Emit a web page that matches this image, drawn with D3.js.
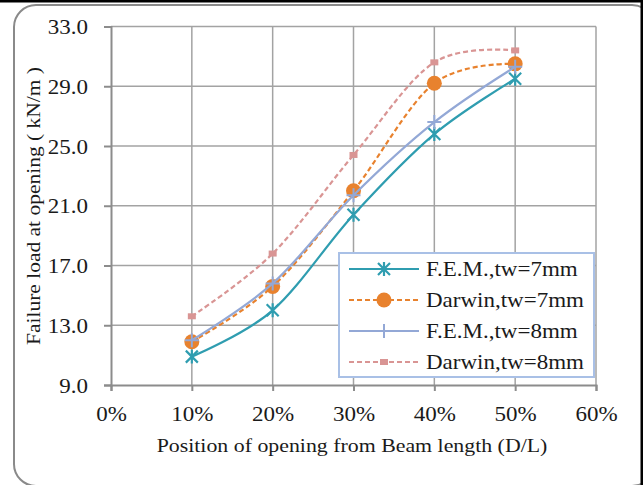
<!DOCTYPE html>
<html>
<head>
<meta charset="utf-8">
<script src="https://cdn.jsdelivr.net/npm/d3@7"></script>
<style>
  body { margin: 0; background: #fff; }
  svg text { font-family: "Liberation Serif", "Times New Roman", serif; fill: #1a1a1a; }
</style>
</head>
<body>
<svg id="chart" width="643" height="485"></svg>
<script>
// data
const positions = [0.1, 0.2, 0.3, 0.4, 0.5];
const xTicks = [0, 0.1, 0.2, 0.3, 0.4, 0.5, 0.6];
const yTicks = [9, 13, 17, 21, 25, 29, 33];
const femTw7 = [10.9, 14.0, 20.4, 25.8, 29.5];
const darwinTw7 = [11.9, 15.6, 22.0, 29.2, 30.5];
const femTw8 = [12.0, 15.8, 21.7, 26.6, 30.3];
const darwinTw8 = [13.6, 17.8, 24.4, 30.6, 31.4];
const seriesNames = ["F.E.M.,tw=7mm", "Darwin,tw=7mm", "F.E.M.,tw=8mm", "Darwin,tw=8mm"];

const series = [
  { name: seriesNames[0], values: femTw7, color: "#2f9db0", dash: null, marker: "star" },
  { name: seriesNames[1], values: darwinTw7, color: "#e8822e", dash: "5,3", marker: "circle" },
  { name: seriesNames[2], values: femTw8, color: "#93a8d6", dash: null, marker: "plus" },
  { name: seriesNames[3], values: darwinTw8, color: "#d99594", dash: "5,3", marker: "rect" }
];

const svg = d3.select("#chart");
const stretch = 1.15;   // text in the picture is a bit wide

// outer frame
svg.append("rect")
  .attr("x", 14).attr("y", 5)
  .attr("width", 640).attr("height", 481)
  .attr("rx", 22)
  .attr("fill", "#fff")
  .attr("stroke", "#8a8a8a")
  .attr("stroke-width", 2);
svg.append("rect").attr("x", 0).attr("y", 0).attr("width", 643).attr("height", 2.5).attr("fill", "#000");
svg.append("rect").attr("x", 640.5).attr("y", 0).attr("width", 3).attr("height", 485).attr("fill", "#000");

const x = d3.scaleLinear().domain([0, 0.6]).range([111, 596]);
const y = d3.scaleLinear().domain([9, 33]).range([385, 26.5]);

// gridlines
const grid = svg.append("g");
grid.selectAll(".hg").data(yTicks.slice(1)).enter().append("line")
  .attr("x1", x(0)).attr("x2", x(0.6))
  .attr("y1", d => y(d)).attr("y2", d => y(d))
  .attr("stroke", "#a3a3a3").attr("stroke-width", 1.5);
grid.selectAll(".vg").data(xTicks.slice(1)).enter().append("line")
  .attr("x1", d => x(d)).attr("x2", d => x(d))
  .attr("y1", y(33)).attr("y2", y(9))
  .attr("stroke", "#a3a3a3").attr("stroke-width", 1.5);

// axes
const yAxis = svg.append("g")
  .attr("transform", `translate(${x(0)},0)`)
  .call(d3.axisLeft(y).tickValues(yTicks).tickSize(7).tickFormat(d3.format(".1f")));
const xAxis = svg.append("g")
  .attr("transform", `translate(0,${y(9)})`)
  .call(d3.axisBottom(x).tickValues(xTicks).tickSize(6).tickFormat(d3.format(".0%")));

[yAxis, xAxis].forEach(a => {
  a.attr("font-size", null).attr("font-family", null);
  a.select(".domain").attr("stroke", "#8c8c8c").attr("stroke-width", 2);
  a.selectAll(".tick line").attr("stroke", "#8c8c8c").attr("stroke-width", 2);
  a.selectAll("text").style("font-size", "20px").attr("fill", "#1a1a1a");
});
yAxis.selectAll(".tick text")
  .attr("x", 0).attr("dy", null)
  .attr("transform", `translate(-23,7) scale(${stretch},1)`);
xAxis.selectAll(".tick text")
  .attr("y", 0).attr("dy", null)
  .attr("transform", `translate(0,36) scale(${stretch},1)`);

// axis titles
svg.append("text")
  .attr("transform", `translate(352,452) scale(${stretch},1)`)
  .attr("text-anchor", "middle")
  .style("font-size", "19px")
  .text("Position of opening from Beam length (D/L)");
svg.append("text")
  .attr("transform", "translate(40,206) rotate(-90)")
  .attr("text-anchor", "middle")
  .style("font-size", "19px")
  .attr("textLength", 278)
  .attr("lengthAdjust", "spacingAndGlyphs")
  .text("Failure load at opening ( kN/m )");

// lines
const line = d3.line()
  .x((d, i) => x(positions[i]))
  .y(d => y(d))
  .curve(d3.curveCatmullRom.alpha(0));

const plot = svg.append("g");
function drawMarker(g, type, color, cx, cy) {
  if (type === "star") {
    const r = 6;
    g.append("path")
      .attr("d", `M${cx - r},${cy - r}L${cx + r},${cy + r}M${cx - r},${cy + r}L${cx + r},${cy - r}M${cx},${cy - r - 1}L${cx},${cy + r + 1}`)
      .attr("stroke", color).attr("stroke-width", 2.2).attr("fill", "none");
  } else if (type === "circle") {
    g.append("circle").attr("cx", cx).attr("cy", cy).attr("r", 7.5).attr("fill", color);
  } else if (type === "plus") {
    const r = 7;
    g.append("path")
      .attr("d", `M${cx - r},${cy}L${cx + r},${cy}M${cx},${cy - r}L${cx},${cy + r}`)
      .attr("stroke", color).attr("stroke-width", 2).attr("fill", "none");
  } else if (type === "rect") {
    g.append("rect").attr("x", cx - 4).attr("y", cy - 3).attr("width", 8).attr("height", 6).attr("fill", color);
  }
}

series.forEach(s => {
  const g = plot.append("g");
  g.append("path")
    .datum(s.values)
    .attr("d", line)
    .attr("fill", "none")
    .attr("stroke", s.color)
    .attr("stroke-width", 2.2)
    .attr("stroke-dasharray", s.dash);
  s.values.forEach((v, i) => drawMarker(g, s.marker, s.color, x(positions[i]), y(v)));
});

// legend
const legend = svg.append("g");
legend.append("rect")
  .attr("x", 339).attr("y", 253).attr("width", 255).attr("height", 124)
  .attr("fill", "#fff").attr("stroke", "#a9c0e6").attr("stroke-width", 2);
series.forEach((s, i) => {
  const ly = 269 + i * 31;
  legend.append("line")
    .attr("x1", 349).attr("x2", 419).attr("y1", ly).attr("y2", ly)
    .attr("stroke", s.color).attr("stroke-width", 2.2)
    .attr("stroke-dasharray", s.dash);
  drawMarker(legend, s.marker, s.color, 384, ly);
  legend.append("text")
    .attr("transform", `translate(426,${ly + 7}) scale(${stretch},1)`)
    .style("font-size", "20px")
    .text(s.name);
});
</script>
</body>
</html>
